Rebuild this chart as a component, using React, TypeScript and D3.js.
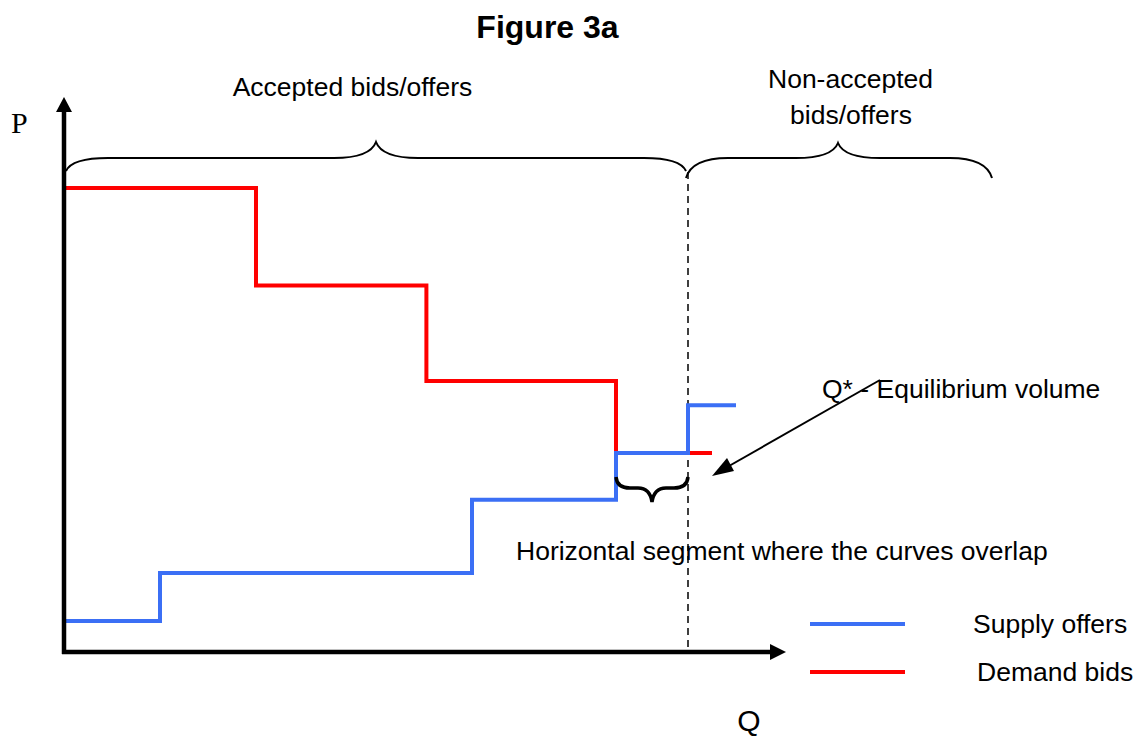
import React from "react";
import * as d3 from "d3";

const W = 1141;
const H = 736;

// Demand bids: step breakpoints (quantity, price)
const demandQ = [0, 4, 7.55, 11.5, 13.5];
const demandP = [100, 79, 58.4, 42.9, 42.9];
// Supply offers: step breakpoints (quantity, price)
const supplyQ = [0, 2, 8.5, 11.5, 13, 14];
const supplyP = [6.7, 17, 32.8, 42.9, 53.2, 53.2];
const equilibriumQ = 13;

const legendItems = [
  { label: "Supply offers", color: "#3b6ff5" },
  { label: "Demand bids", color: "#ff0000" },
];

const FONT = "Liberation Sans, Arial, Helvetica, sans-serif";
const FS = 26.5;

function braceUp(x1: number, x2: number, tip: number, yh: number, yEnd: number, yTip: number) {
  const r = 42;
  return `M${x1},${yEnd} Q${x1 + 6},${yh} ${x1 + r},${yh} L${tip - r},${yh} Q${tip - 6},${yh} ${tip},${yTip} Q${tip + 6},${yh} ${tip + r},${yh} L${x2 - r},${yh} Q${x2 - 6},${yh} ${x2},${yEnd}`;
}

function braceDown(x1: number, x2: number, tip: number, yh: number, yEnd: number, yTip: number) {
  const r = 14;
  return `M${x1},${yEnd} Q${x1 + 1},${yh} ${x1 + r},${yh} L${tip - r},${yh} Q${tip - 2},${yh} ${tip},${yTip} Q${tip + 2},${yh} ${tip + r},${yh} L${x2 - r},${yh} Q${x2 - 1},${yh} ${x2},${yEnd}`;
}

export default function App() {
  const x = d3.scaleLinear().domain([0, 15]).range([64, 784]);
  const y = d3.scaleLinear().domain([0, 100]).range([652, 188]);

  const demand = demandQ.map((q, i) => ({ q, p: demandP[i] }));
  const supply = supplyQ.map((q, i) => ({ q, p: supplyP[i] }));

  const line = d3
    .line<{ q: number; p: number }>()
    .x((d) => x(d.q))
    .y((d) => y(d.p))
    .curve(d3.curveStepAfter);

  const xe = x(equilibriumQ);

  return (
    <svg
      width={W}
      height={H}
      style={{ position: "absolute", left: 0, top: 0, background: "#fff" }}
      fontFamily={FONT}
    >
      {/* Title */}
      <text x={547.5} y={38} textAnchor="middle" fontSize={32} fontWeight="bold" fill="#000">
        Figure 3a
      </text>

      {/* Top labels */}
      <text x={352.5} y={96} textAnchor="middle" fontSize={FS} fill="#000">
        Accepted bids/offers
      </text>
      <text x={850.5} y={88} textAnchor="middle" fontSize={FS} fill="#000">
        Non-accepted
      </text>
      <text x={851} y={124} textAnchor="middle" fontSize={FS} fill="#000">
        bids/offers
      </text>

      {/* Top braces */}
      <path d={braceUp(66, xe - 2, 376, 158, 171, 142)} fill="none" stroke="#000" strokeWidth={2} />
      <path d={braceUp(xe - 2, 992, 838, 158, 178, 143)} fill="none" stroke="#000" strokeWidth={2} />

      {/* Axis labels */}
      <text x={11} y={133} fontSize={30} fontFamily="Liberation Serif, Times New Roman, serif" fill="#000">
        P
      </text>
      <text x={749} y={731} textAnchor="middle" fontSize={30} fill="#000">
        Q
      </text>

      {/* Dashed equilibrium line */}
      <line x1={xe} x2={xe} y1={172} y2={652} stroke="#000" strokeWidth={1.5} strokeDasharray="7,5" />

      {/* Curves */}
      <path d={line(demand) || ""} fill="none" stroke="#ff0000" strokeWidth={4} />
      <path d={line(supply) || ""} fill="none" stroke="#3b6ff5" strokeWidth={4} />

      {/* Axes */}
      <line x1={64} x2={64} y1={654} y2={110} stroke="#000" strokeWidth={4.5} />
      <path d="M56,112 L64,97 L72,112 z" fill="#000" />
      <line x1={62} x2={772} y1={652} y2={652} stroke="#000" strokeWidth={4.5} />
      <path d="M770,644 L786,652 L770,660 z" fill="#000" />

      {/* Overlap brace */}
      <path d={braceDown(x(11.5), xe, 652, 488, 477, 502)} fill="none" stroke="#000" strokeWidth={3.5} />

      {/* Equilibrium annotation */}
      <line x1={880} y1={380} x2={722} y2={470} stroke="#000" strokeWidth={2} />
      <path d="M712,476 L727,458 L734,471 z" fill="#000" />
      <text x={822} y={398} fontSize={FS} fill="#000">
        Q* - Equilibrium volume
      </text>

      <text x={516} y={560} fontSize={FS} fill="#000">
        Horizontal segment where the curves overlap
      </text>

      {/* Legend */}
      {legendItems.map((it, i) => (
        <g key={it.label}>
          <line x1={810} x2={905} y1={624 + i * 48} y2={624 + i * 48} stroke={it.color} strokeWidth={4} />
          <text x={i === 0 ? 973 : 977} y={633 + i * 48} fontSize={FS} fill="#000">
            {it.label}
          </text>
        </g>
      ))}
    </svg>
  );
}
